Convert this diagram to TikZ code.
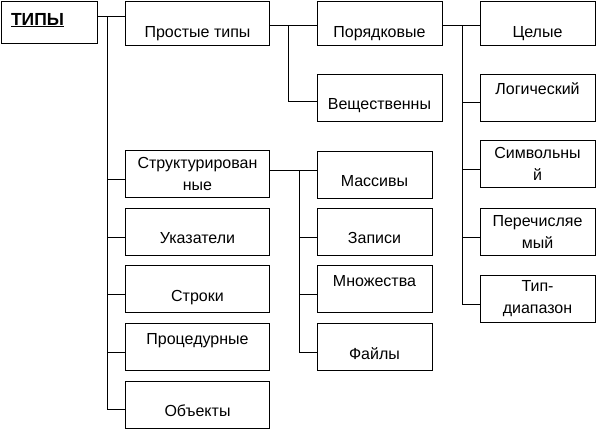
\documentclass[tikz,border=0pt]{standalone}
\usepackage{fontspec}
\setmainfont{Liberation Sans}
\tikzset{
  box/.style={
    draw,
    line width=1pt,
    minimum width=#1,
    minimum height=47pt,
    inner sep=0pt,
    align=center,
    font=\fontsize{16}{22}\selectfont
  },
  box/.default=144pt,
  lo/.style={text height=#1, text depth=0pt},
  hi/.style={text height=11.5pt, text depth=#1},
  wire/.style={line width=1pt}
}

\begin{document}
\begin{tikzpicture}[x=1pt, y=-1pt]
        \useasboundingbox (0,0) rectangle (598,432);

        % root
        \node[draw, line width=1pt, minimum width=96pt, minimum height=42pt,
              text width=76pt, inner xsep=10pt, inner ysep=0pt, align=left,
              text height=12.5pt, text depth=6pt,
              font=\fontsize{17.5}{20}\selectfont\bfseries] (tipy) at (49,22) {\underline{ТИПЫ}};

        % first level
        \node[box, minimum height=44pt, lo=29.5pt] (prostye) at (197.5,23) {Простые типы};
        \node[box] (struct) at (197.5,174) {Структурирован\\ные};
        \node[box, lo=22.5pt] (ukaz) at (197.5,232) {Указатели};
        \node[box, lo=25.5pt] (stroki) at (197.5,289) {Строки};
        \node[box, hi=17pt] (proc) at (197.5,347) {Процедурные};
        \node[box, lo=24.5pt] (obj) at (197.5,404.5) {Объекты};

        % simple types
        \node[box=125pt, minimum height=44pt, lo=29.5pt] (poryad) at (379.5,23) {Порядковые};
        \node[box=125pt, lo=23.5pt] (veshch) at (379.5,97.5) {Вещественны};

        % ordinal types
        \node[box=115pt, minimum height=44pt, lo=29.5pt] (celye) at (537.5,23) {Целые};
        \node[box=115pt, hi=18pt] (logich) at (537.5,97.5) {Логический};
        \node[box=115pt] (simv) at (537.5,164) {Символьны\\й};
        \node[box=115pt] (perech) at (537.5,232) {Перечисляе\\мый};
        \node[box=115pt] (diap) at (537.5,299) {Тип-\\диапазон};

        % structured types
        \node[box=115pt, lo=24.5pt] (massiv) at (374.5,174.5) {Массивы};
        \node[box=115pt, lo=22.5pt] (zapis) at (374.5,232) {Записи};
        \node[box=115pt, hi=16pt] (mnozh) at (374.5,289) {Множества};
        \node[box=115pt, lo=25.5pt] (fayl) at (374.5,347) {Файлы};

        % buses
        \coordinate (busA) at (107,16);
        \coordinate (busB) at (288,25);
        \coordinate (busC) at (462,25);
        \coordinate (busD) at (299,170);

        \draw[wire] (tipy.east |- busA) -- (prostye.west |- busA);
        \foreach \n in {struct,ukaz,stroki,proc,obj}
            \draw[wire] ([yshift=-5pt]\n.west) -| (busA);

        \draw[wire] (prostye.east |- busB) -- (poryad.west |- busB);
        \draw[wire] ([yshift=-3.5pt]veshch.west) -| (busB);

        \draw[wire] (poryad.east |- busC) -- (celye.west |- busC);
        \foreach \n in {logich,simv,perech,diap}
            \draw[wire] ([yshift=-5pt]\n.west) -| (busC);

        \draw[wire] (struct.east |- busD) -- (massiv.west |- busD);
        \foreach \n in {zapis,mnozh,fayl}
            \draw[wire] ([yshift=-5pt]\n.west) -| (busD);
\end{tikzpicture}
\end{document}
